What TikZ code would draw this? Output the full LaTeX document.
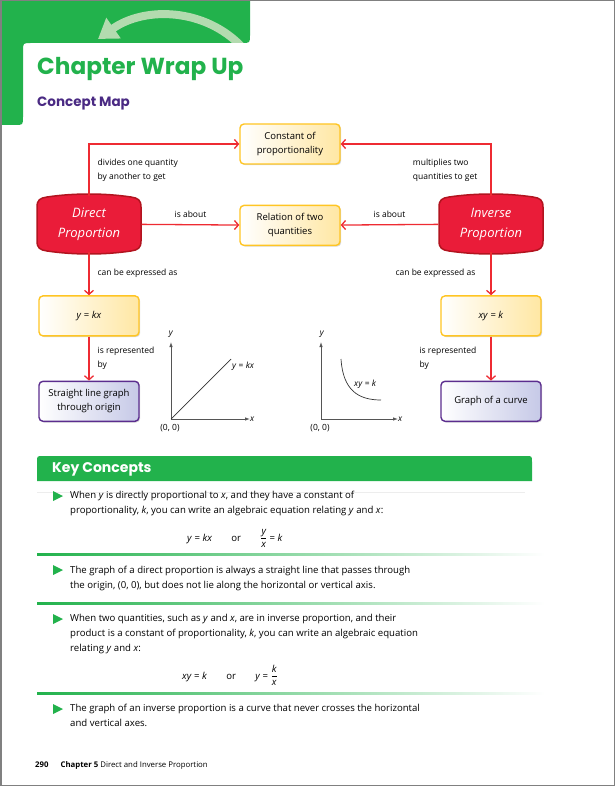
\documentclass[tikz,border=0pt]{standalone}
\usepackage{amsmath}
\usepackage{fontspec}
\setmainfont{Open Sans}
\newfontfamily\headfont{Poppins}
\usetikzlibrary{positioning,arrows.meta,shadows,backgrounds}

\definecolor{tabgreen}{HTML}{22B24C}
\definecolor{tabarrowgreen}{HTML}{B3DBAF}
\definecolor{mapviolet}{HTML}{4A2A83}
\definecolor{linkred}{HTML}{EE2B32}
\definecolor{propred}{HTML}{EA1C39}
\definecolor{propedge}{HTML}{B2141F}
\definecolor{boxgold}{HTML}{FFC523}
\definecolor{boxcream}{HTML}{FFE7A3}
\definecolor{boxviolet}{HTML}{5B2D8E}
\definecolor{boxlilac}{HTML}{C6C9E7}
\definecolor{axisgray}{HTML}{555555}

% red badge behind a proportion node
\newcommand\propblob[1]{%
  \filldraw[fill=propred, draw=propedge, line width=1.5pt, shift={(#1.center)}]
    (-52,-17) .. controls (-52,-24) and (-49,-26) .. (-42,-27)
    .. controls (-15,-31) and (15,-31) .. (42,-27)
    .. controls (49,-26) and (52,-24) .. (52,-17)
    -- (52,17)
    .. controls (52,24) and (49,26) .. (42,27)
    .. controls (15,31) and (-15,31) .. (-42,27)
    .. controls (-49,26) and (-52,24) .. (-52,17) -- cycle;}

% green bullet, #1 = y of its middle
\newcommand\kcbullet[1]{%
  \fill[tabgreen] (53,#1-5) -- (63,#1) -- (53,#1+5) -- cycle;}

% green rule fading to the right
\newcommand\kcrule[1]{%
  \shade[left color=tabgreen, middle color=tabgreen!55, right color=white]
    (37,#1-1) rectangle (545,#1+1);}

% upright fraction of two italic letters
\newcommand\kcfrac[2]{$\dfrac{\text{\itshape #1}}{\text{\itshape #2}}$}

\begin{document}
\begin{tikzpicture}[x=1pt,y=-1pt]
  \tikzset{
    propnode/.style={minimum width=105pt, minimum height=56pt, inner sep=0pt, align=center,
      text=white, font=\fontsize{13}{20}\selectfont\itshape},
    ansbox/.style={draw=boxgold, line width=1.4pt, rounded corners=4pt,
      left color=white, right color=boxcream, minimum width=100pt, minimum height=40pt,
      inner sep=2pt, align=center, font=\fontsize{9.5}{14}\selectfont,
      drop shadow={shadow xshift=1.2pt, shadow yshift=-1.2pt, opacity=0.3}},
    graphbox/.style={ansbox, draw=boxviolet, right color=boxlilac},
    link/.style={draw=linkred, line width=1.3pt, -{Straight Barb[length=4pt,width=9pt]}},
    linklbl/.style={font=\fontsize{8.5}{14}\selectfont, align=left, inner sep=0pt},
    axis/.style={draw=axisgray, line width=0.8pt, -{Latex[length=5pt,width=3.5pt]}},
    plotline/.style={draw=black!80, line width=0.7pt},
    graphlbl/.style={font=\fontsize{8.5}{10}\selectfont, inner sep=1pt},
    kctext/.style={anchor=base west, align=left, inner sep=0pt, font=\fontsize{9.6}{15}\selectfont}
  }
  \useasboundingbox (0,0) rectangle (615,786);

  % header tab
  \fill[tabgreen] (0,0) -- (250,0) -- (250,35) .. controls (250,43) .. (242,43)
    -- (31,43) .. controls (23,43) .. (23,51) -- (23,117) .. controls (23,125) .. (15,125)
    -- (0,125) -- cycle;
  \begin{scope}
    \clip (0,0) rectangle (250,43);
    \draw[tabarrowgreen, line width=8pt, -{Triangle[length=19pt,width=24pt]}]
      (242,47) .. controls (205,8) and (145,6) .. (98,39);
  \end{scope}
  \draw[gray, line width=1.5pt] (0.75,0.75) rectangle (614.25,785.25);

  \node[anchor=base west, inner sep=0pt, text=tabgreen, font=\headfont\bfseries\fontsize{23.2}{28}\selectfont]
    (title) at (37,75) {Chapter Wrap Up};
  \node[anchor=base west, inner sep=0pt, text=mapviolet, font=\headfont\bfseries\fontsize{13.5}{16}\selectfont]
    (subtitle) at (37,107) {Concept Map};

  % concept map
  \node[propnode] (direct) at (89,224) {Direct\\Proportion};
  \node[propnode] (inverse) at (491,224) {Inverse\\Proportion};
  \node[ansbox] (constant) at (290,144) {Constant of\\proportionality};
  \node[ansbox, below=40pt of constant] (relation) {Relation of two\\quantities};
  \node[ansbox, below=43pt of direct] (ykx) {\textit{y} = \textit{kx}};
  \node[ansbox, below=43pt of inverse] (xyk) {\textit{xy} = \textit{k}};
  \node[graphbox, below=44pt of ykx] (straightline) {Straight line graph\\through origin};
  \node[graphbox, below=44pt of xyk] (curvegraph) {Graph of a curve};

  \begin{scope}[on background layer]
    \propblob{direct}
    \propblob{inverse}
  \end{scope}

  \draw[link] (direct) |- node[linklbl, pos=0.25, right=8pt] {divides one quantity\\by another to get} (constant);
  \draw[link] (inverse) |- node[linklbl, pos=0.25, left=13pt] {multiplies two\\quantities to get} (constant);
  \draw[link] (direct) -- node[linklbl, above=6pt] {is about} (relation);
  \draw[link] (inverse) -- node[linklbl, above=6pt] {is about} (relation);
  \draw[link] (direct) -- node[linklbl, right=8pt] {can be expressed as} (ykx);
  \draw[link] (inverse) -- node[linklbl, left=15pt] {can be expressed as} (xyk);
  \draw[link] (ykx) -- node[linklbl, right=8pt] {is represented\\by} (straightline);
  \draw[link] (xyk) -- node[linklbl, left=14pt] {is represented\\by} (curvegraph);

  % small graphs
  \coordinate (orgA) at (171,419);
  \draw[axis] (orgA) -- (171,342);
  \draw[axis] (orgA) -- (250,419);
  \draw[plotline] (orgA) -- (231,359);
  \node[graphlbl] at (171,334) {\textit{y}};
  \node[graphlbl, anchor=west] at (249,419) {\textit{x}};
  \node[graphlbl, anchor=west] at (231,366) {\textit{y} = \textit{kx}};
  \node[graphlbl] at (170,428) {(0, 0)};

  \coordinate (orgB) at (321,419);
  \draw[axis] (orgB) -- (321,342);
  \draw[axis] (orgB) -- (398,419);
  \draw[plotline] (341,359) .. controls (343,390) and (358,400) .. (381,400);
  \node[graphlbl] at (322,334) {\textit{y}};
  \node[graphlbl, anchor=west] at (397,419) {\textit{x}};
  \node[graphlbl, anchor=west] at (353,384) {\textit{xy} = \textit{k}};
  \node[graphlbl] at (320,428) {(0, 0)};

  % key concepts
  \fill[tabgreen] (37,481) -- (37,462) .. controls (37,456) .. (43,456) -- (526,456)
    .. controls (532,456) .. (532,462) -- (532,481) -- cycle;
  \node[anchor=west, inner sep=0pt, text=white, font=\headfont\bfseries\fontsize{14}{15}\selectfont]
    (kchead) at (52,469) {Key Concepts};
  \draw[black!7, line width=0.6pt] (37,492) -- (525,492);

  \kcbullet{496}
  \node[kctext] (kcone) at (70,513) {When \textit{y} is directly proportional to \textit{x}, and they have a constant of\\
    proportionality, \textit{k}, you can write an algebraic equation relating \textit{y} and \textit{x}:};
  \node[kctext] (kconeeq) at (187,541)
    {\textit{y} = \textit{kx}\hspace{2em}or\hspace{2em}\kcfrac{y}{x} = \textit{k}};
  \kcrule{554}

  \kcbullet{570}
  \node[kctext] (kctwo) at (70,588) {The graph of a direct proportion is always a straight line that passes through\\
    the origin, (0, 0), but does not lie along the horizontal or vertical axis.};
  \kcrule{603}

  \kcbullet{619}
  \node[kctext] (kcthree) at (70,651) {When two quantities, such as \textit{y} and \textit{x}, are in inverse proportion, and their\\
    product is a constant of proportionality, \textit{k}, you can write an algebraic equation\\
    relating \textit{y} and \textit{x}:};
  \node[kctext] (kcthreeeq) at (182,679)
    {\textit{xy} = \textit{k}\hspace{2em}or\hspace{2em}\textit{y} = \kcfrac{k}{x}};
  \kcrule{693}

  \kcbullet{709}
  \node[kctext] (kcfour) at (70,726) {The graph of an inverse proportion is a curve that never crosses the horizontal\\
    and vertical axes.};

  \node[anchor=base west, inner sep=0pt, font=\fontsize{7.8}{9}\selectfont] (footer) at (35,767)
    {\textbf{290}\hspace{12pt}\textbf{Chapter 5} Direct and Inverse Proportion};
\end{tikzpicture}
\end{document}
